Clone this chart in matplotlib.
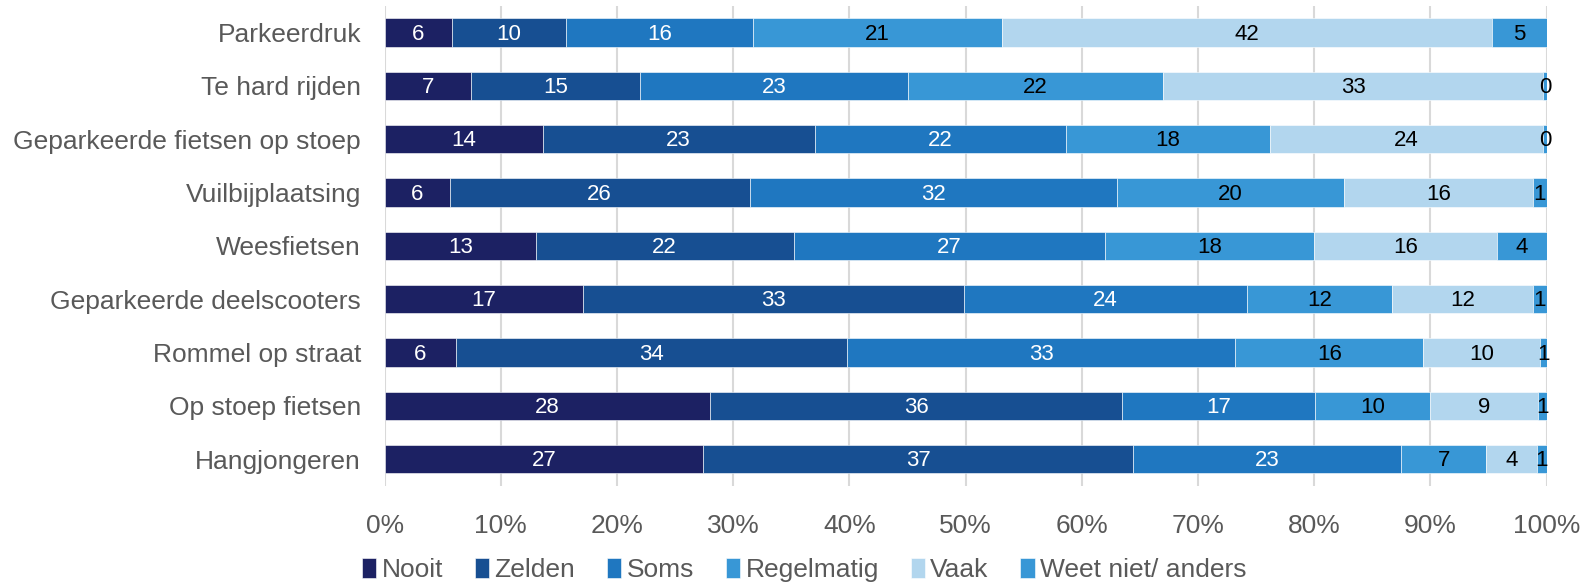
import matplotlib
matplotlib.use("Agg")
import matplotlib.pyplot as plt
import numpy as np

plt.rcParams['font.family'] = ['Liberation Sans', 'DejaVu Sans']

categories = ["Parkeerdruk", "Te hard rijden", "Geparkeerde fietsen op stoep",
              "Vuilbijplaatsing", "Weesfietsen", "Geparkeerde deelscooters",
              "Rommel op straat", "Op stoep fietsen", "Hangjongeren"]
series = ["Nooit", "Zelden", "Soms", "Regelmatig", "Vaak", "Weet niet/ anders"]

# percentages per category, in series order
nooit = [5.8, 7.4, 13.6, 5.6, 13.0, 17.1, 6.1, 28.0, 27.4]
zelden = [9.8, 14.6, 23.4, 25.8, 22.2, 32.8, 33.7, 35.5, 37.0]
soms = [16.1, 23.0, 21.6, 31.6, 26.8, 24.3, 33.4, 16.6, 23.1]
regelmatig = [21.4, 22.0, 17.6, 19.6, 18.0, 12.5, 16.2, 9.9, 7.3]
vaak = [42.2, 32.7, 23.5, 16.2, 15.7, 12.1, 10.0, 9.3, 4.4]
weet_niet = [4.7, 0.3, 0.3, 1.2, 4.3, 1.2, 0.6, 0.7, 0.8]

colors = ["#1c2163", "#174f92", "#1f77c0", "#3897d6", "#b2d6ee", "#3897d6"]
label_colors = ["white", "white", "white", "black", "black", "black"]

raw = [nooit, zelden, soms, regelmatig, vaak, weet_niet]
data = np.array(raw)
data = data / data.sum(axis=0) * 100

fig = plt.figure(figsize=(15.83, 5.84), dpi=100)
ax = fig.add_axes([0.243, 0.168, 0.734, 0.822])

y = np.arange(len(categories))
left = np.zeros(len(categories))
for i, name in enumerate(series):
    bars = ax.barh(y, data[i], left=left, height=0.53, color=colors[i],
                   edgecolor="white", linewidth=0.4, label=name, zorder=3)
    for j, b in enumerate(bars):
        ax.text(left[j] + data[i][j] / 2, y[j] + 0.03, f"{round(raw[i][j]):d}",
                ha="center", va="center", fontsize=16, color=label_colors[i], zorder=4)
    left += data[i]

ax.set_xlim(0, 100)
ax.set_ylim(8.5, -0.5)
ax.set_yticks(y)
ax.set_yticklabels(categories, fontsize=19, color="#595959")
ax.set_xticks(np.arange(0, 101, 10))
ax.set_xticklabels([f"{v}%" for v in range(0, 101, 10)], fontsize=19, color="#595959")
ax.tick_params(length=0)
ax.tick_params(axis="x", pad=20)
ax.tick_params(axis="y", pad=17)
ax.grid(axis="x", color="#d9d9d9", linewidth=1.5, zorder=0)
for s in ax.spines.values():
    s.set_visible(False)

fig.legend(loc="lower center", bbox_to_anchor=(0.508, -0.038), ncol=6, frameon=False,
           fontsize=19, handlelength=0.55, handleheight=0.8, handletextpad=0.2,
           columnspacing=1.2, labelcolor="#595959")

fig.savefig("out.png", dpi=100)
